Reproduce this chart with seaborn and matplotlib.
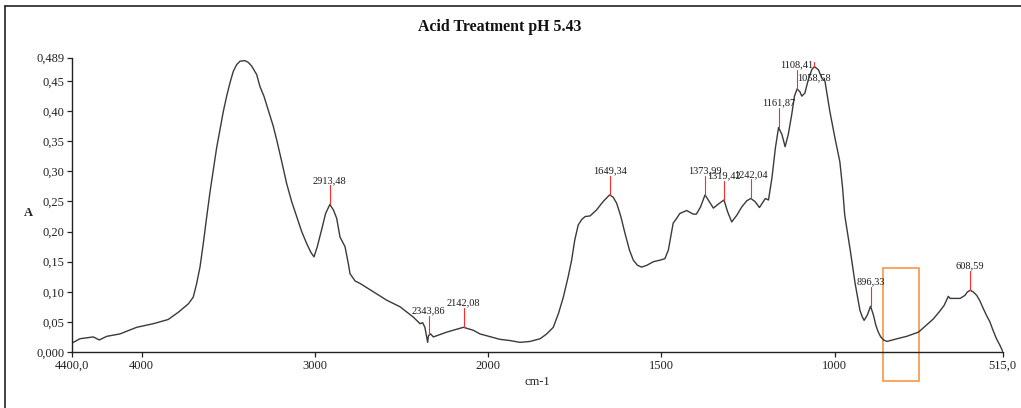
import numpy as np
import matplotlib
matplotlib.use("Agg")
import matplotlib.pyplot as plt
from matplotlib.patches import Rectangle
from matplotlib.lines import Line2D
import seaborn as sns

# FTIR spectrum, wavenumber (cm-1) vs absorbance
wavenumber = [
    4400, 4356, 4279, 4244, 4201, 4125, 4028, 3932, 3846, 3788, 3730, 3702,
    3682, 3663, 3644, 3624, 3605, 3586, 3567, 3548, 3528, 3509, 3490, 3471,
    3451, 3432, 3404, 3384, 3365, 3336, 3317, 3294, 3269, 3240, 3220, 3191,
    3163, 3134, 3105, 3076, 3047, 3024, 3005, 2986, 2961, 2938, 2913.48,
    2893, 2874, 2855, 2826, 2807, 2797, 2768, 2740, 2663, 2585, 2508, 2432,
    2393, 2378, 2365, 2355, 2349, 2343.86, 2332, 2316, 2239, 2142.08, 2085,
    2047, 1985, 1966, 1937, 1908, 1879, 1850, 1831, 1812, 1797, 1783, 1769,
    1759, 1750, 1740, 1730, 1720, 1706, 1687, 1668, 1649.34, 1639, 1629,
    1617, 1605, 1592, 1581, 1569, 1557, 1542, 1523, 1504, 1490, 1480, 1473,
    1466, 1456, 1447, 1427, 1408, 1399, 1387, 1373.99, 1362, 1350, 1335,
    1319.42, 1309, 1297, 1282, 1268, 1254, 1242.04, 1230, 1217, 1200, 1191,
    1181, 1171, 1161.87, 1152, 1143, 1134, 1124, 1116, 1108.41, 1100, 1095,
    1086, 1076, 1066, 1058.58, 1047, 1037, 1028, 1014, 999, 985, 977, 971,
    955, 948, 941, 934, 927, 920, 915, 906, 896.33, 888, 881, 874, 867, 859,
    849, 820, 792, 758, 729, 715, 695, 684, 672, 667, 653, 638, 624, 617,
    608.59, 600, 590, 581, 571, 562, 552, 543, 533, 523, 515,
]
absorbance = [
    0.015, 0.022, 0.025, 0.020, 0.026, 0.030, 0.041, 0.047, 0.054, 0.066, 0.080, 0.091,
    0.114, 0.141, 0.180, 0.225, 0.266, 0.302, 0.339, 0.369, 0.400, 0.425, 0.447, 0.466,
    0.4775, 0.483, 0.484, 0.481, 0.475, 0.461, 0.441, 0.425, 0.402, 0.375, 0.352, 0.316,
    0.280, 0.250, 0.225, 0.200, 0.180, 0.166, 0.158, 0.175, 0.203, 0.230, 0.245,
    0.236, 0.222, 0.191, 0.175, 0.147, 0.130, 0.118, 0.114, 0.100, 0.086, 0.075, 0.058,
    0.047, 0.0487, 0.041, 0.025, 0.016, 0.0275, 0.030, 0.025, 0.033, 0.041, 0.036,
    0.030, 0.024, 0.021, 0.019, 0.016, 0.0175, 0.022, 0.030, 0.041, 0.064, 0.091, 0.125,
    0.1525, 0.186, 0.211, 0.220, 0.225, 0.226, 0.236, 0.250, 0.261, 0.257, 0.247,
    0.225, 0.197, 0.169, 0.1525, 0.144, 0.141, 0.144, 0.150, 0.1525, 0.155, 0.169, 0.191,
    0.214, 0.222, 0.230, 0.235, 0.229, 0.229, 0.241, 0.261, 0.250, 0.239, 0.246,
    0.2525, 0.233, 0.216, 0.2275, 0.241, 0.251, 0.255, 0.250, 0.240, 0.255, 0.2525,
    0.289, 0.339, 0.373, 0.361, 0.341, 0.361, 0.394, 0.425, 0.437, 0.432, 0.425,
    0.430, 0.4525, 0.469, 0.474, 0.469, 0.455, 0.450, 0.400, 0.355, 0.316, 0.272, 0.2275,
    0.169, 0.141, 0.114, 0.091, 0.069, 0.058, 0.0525, 0.061, 0.076, 0.061, 0.044, 0.033, 0.025, 0.020,
    0.0175, 0.022, 0.026, 0.033, 0.048, 0.055, 0.069, 0.0775, 0.0925, 0.089, 0.089, 0.089, 0.094, 0.0997,
    0.1025, 0.0997, 0.094, 0.085, 0.072, 0.061, 0.050, 0.036, 0.022, 0.011, 0.001,
]

# labelled peaks
peaks = [2913.48, 2343.86, 2142.08, 1649.34, 1373.99, 1319.42, 1242.04,
         1161.87, 1108.41, 1058.58, 896.33, 608.59]

x_ticks = [4400, 4000, 3000, 2000, 1500, 1000, 515]
x_tick_labels = ["4400,0", "4000", "3000", "2000", "1500", "1000", "515,0"]
y_ticks = [0.0, 0.05, 0.10, 0.15, 0.20, 0.25, 0.30, 0.35, 0.40, 0.45, 0.489]
y_tick_labels = ["0,000", "0,05", "0,10", "0,15", "0,20", "0,25", "0,30",
                 "0,35", "0,40", "0,45", "0,489"]

sns.set_style("ticks")
plt.rcParams["font.family"] = ["Liberation Serif", "DejaVu Serif"]

fig = plt.figure(figsize=(10.21, 4.08), dpi=100)
ax = fig.add_axes([0.0708, 0.1373, 0.9113, 0.7215])

# x axis is compressed 2:1 above 2000 cm-1
def fwd(x):
    x = np.asarray(x, dtype=float)
    return np.where(x >= 2000, x, 2 * x - 2000)

def inv(u):
    u = np.asarray(u, dtype=float)
    return np.where(u >= 2000, u, (u + 2000) / 2)

ax.set_xscale("function", functions=(fwd, inv))

sns.lineplot(x=wavenumber, y=absorbance, sort=False, estimator=None,
             color="#3a3a3a", lw=1.0, ax=ax)

ax.set_xlim(4400, 515)
ax.set_ylim(0, 0.489)
ax.set_xticks(x_ticks)
ax.set_xticklabels(x_tick_labels)
ax.set_yticks(y_ticks)
ax.set_yticklabels(y_tick_labels)
ax.minorticks_off()
ax.tick_params(axis="both", length=3.6, width=0.9, color="#222222",
               labelsize=9, labelcolor="#222222", pad=2)

for side in ("top", "right"):
    ax.spines[side].set_visible(False)
for side in ("left", "bottom"):
    ax.spines[side].set_linewidth(1.0)
    ax.spines[side].set_color("#222222")

ax.set_xlabel("cm-1", fontsize=9, color="#222222")
ax.xaxis.set_label_coords(0.5, -0.101)
ax.xaxis.label.set_va("center")
ax.set_ylabel("A", fontsize=9, fontweight="bold", rotation=0, color="#222222")
ax.yaxis.set_label_coords(-0.0476, 0.472)
ax.yaxis.label.set_va("center")

fig.text(0.4897, 0.934, "Acid Treatment pH 5.43", ha="center", va="center",
         fontsize=11.4, fontweight="bold", color="#111111")

# peak markers and labels
tick_len = 0.032
label_below = {1058.58}
for p in peaks:
    a = absorbance[wavenumber.index(p)]
    txt = f"{p:.2f}".replace(".", ",")
    if p in label_below:
        ax.plot([p, p], [a, a + 0.007], color="#ff2a2a", lw=0.8)
        ax.text(p, a - 0.018, txt, ha="center", va="center", fontsize=7.5,
                color="#1a1a1a")
    else:
        ax.plot([p, p], [a, a + tick_len], color="#ff2a2a", lw=0.8)
        ax.text(p, a + tick_len + 0.004, txt, ha="center", va="baseline",
                fontsize=7.5, color="#1a1a1a")

# highlighted region
ax.add_patch(Rectangle((757, -0.049), 103, 0.189, fill=False,
                       edgecolor="#f79646", lw=1.2, clip_on=False))

# outer frame (left and top edges)
fig.add_artist(Line2D([0.0049, 0.0049], [0.0, 0.985], color="#222222", lw=1.2))
fig.add_artist(Line2D([0.0049, 1.0], [0.985, 0.985], color="#222222", lw=1.2))

fig.savefig("out.png", dpi=100)
